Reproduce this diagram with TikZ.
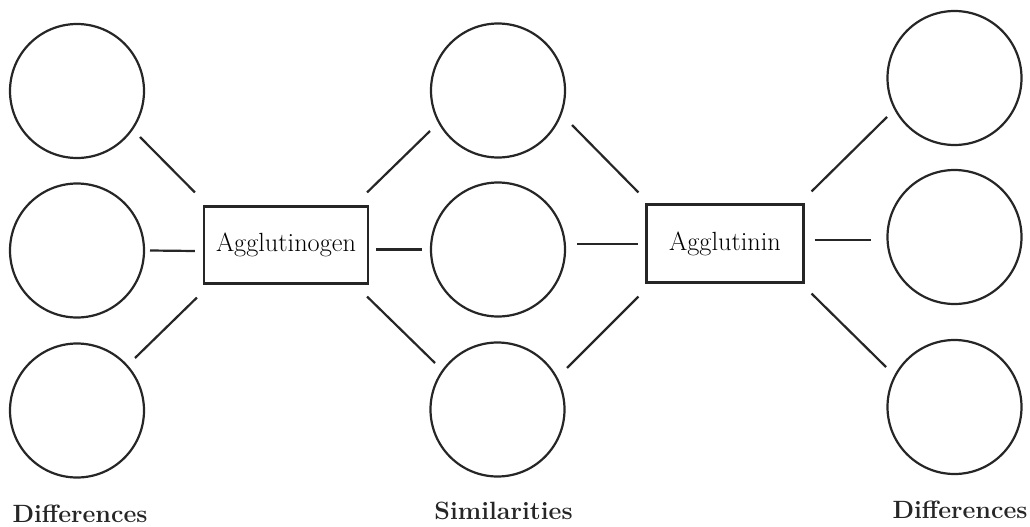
\documentclass[tikz,border=0pt]{standalone}
\begin{document}
\begin{tikzpicture}[x=1pt,y=-1pt,
  ring/.style={circle,draw=black!85,line width=2.2pt,inner sep=0pt,minimum size=134pt},
  termbox/.style={rectangle,draw=black!85,line width=2.2pt,inner sep=0pt,font=\fontsize{26.3}{30}\selectfont},
  conn/.style={draw=black!85,line width=2.2pt},
  heading/.style={anchor=base,inner sep=0pt,font=\fontsize{25}{29}\selectfont\bfseries,text=black!85}]
\useasboundingbox (0,0) rectangle (1030,527);
% left column
\node[ring] (c1) at (77,91) {};
\node[ring] (c2) at (77,250.5) {};
\node[ring] (c3) at (77,410.5) {};
% middle column
\node[ring] (m1) at (498,90.5) {};
\node[ring] (m2) at (498,249.5) {};
\node[ring] (m3) at (497.5,409.5) {};
% right column
\node[ring] (r1) at (954.5,78) {};
\node[ring] (r2) at (954.5,237) {};
\node[ring] (r3) at (954.5,407) {};
% boxes
\node[termbox,minimum width=164pt,minimum height=77pt] (g) at (286,245) {Agglutinogen};
\node[termbox,minimum width=157pt,minimum height=78pt] (a) at (725,243.5) {Agglutinin};
% connectors
\draw[conn] ([shift={(63,46)}]c1.center) -- ([shift={(-8,-13)}]g.north west);
\draw[conn] ([shift={(73,0)}]c2.center) -- ([shift={(-8,6)}]g.west);
\draw[conn] ([shift={(58,-52.5)}]c3.center) -- ([shift={(-6,13)}]g.south west);
\draw[conn] ([shift={(-2,-13)}]g.north east) -- ([shift={(-68,40.5)}]m1.center);
\draw[conn] ([shift={(7,4.5)}]g.east) -- ([shift={(-76,0)}]m2.center);
\draw[conn] ([shift={(-2,12)}]g.south east) -- ([shift={(-62.5,-46.5)}]m3.center);
\draw[conn] ([shift={(74,34.5)}]m1.center) -- ([shift={(-7,-11)}]a.north west);
\draw[conn] ([shift={(79,-5.5)}]m2.center) -- ([shift={(-7,0.5)}]a.west);
\draw[conn] ([shift={(69.5,-41.5)}]m3.center) -- ([shift={(-7,13)}]a.south west);
\draw[conn] ([shift={(7,-12)}]a.north east) -- ([shift={(-67.5,39)}]r1.center);
\draw[conn] ([shift={(10,-3.5)}]a.east) -- ([shift={(-83.5,3)}]r2.center);
\draw[conn] ([shift={(7,10)}]a.south east) -- ([shift={(-68.5,-40)}]r3.center);
% headings
\node[heading] (h1) at (80,522) {Differences};
\node[heading] (h2) at (503.5,519) {Similarities};
\node[heading] (h3) at (960,518) {Differences};
\end{tikzpicture}
\end{document}
